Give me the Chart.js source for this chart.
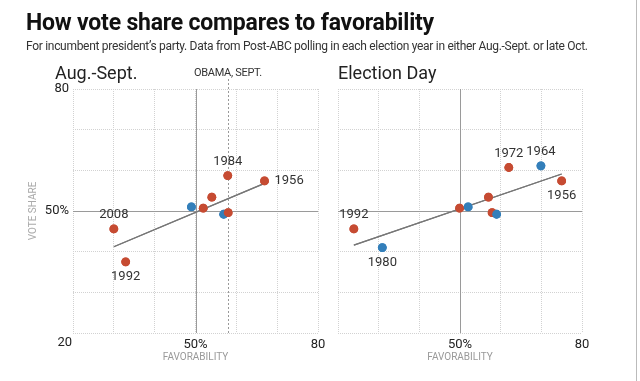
<!DOCTYPE html>
<html>
<head>
<meta charset="utf-8">
<script src="https://cdn.jsdelivr.net/npm/chart.js@4.4.1/dist/chart.umd.min.js"></script>
<style>
  body { margin: 0; background: #fff; font-family: Roboto, "Liberation Sans", sans-serif; }
  #page { position: relative; width: 640px; height: 381px; overflow: hidden; }
  canvas { position: absolute; left: 0; top: 0; }
  .txt { position: absolute; white-space: nowrap; color: #222; }
  #title { left: 26px; top: 9px; font-size: 23px; font-weight: bold; letter-spacing: -0.2px; color: #111; }
  #sub { left: 26px; top: 39px; font-size: 12px; color: #333; letter-spacing: -0.3px; }
  .panel { top: 62px; font-size: 18px; color: #222; }
  #obama { left: 194px; top: 66px; font-size: 11px; color: #333; letter-spacing: -0.3px; }
  #edge { position: absolute; left: 636px; top: 0; width: 1px; height: 381px; background: #bbb; }
</style>
</head>
<body>
<div id="page">
  <canvas id="aug" width="640" height="381"></canvas>
  <canvas id="elec" width="640" height="381"></canvas>
  <div class="txt" id="title">How vote share compares to favorability</div>
  <div class="txt" id="sub">For incumbent president’s party. Data from Post-ABC polling in each election year in either Aug.-Sept. or late Oct.</div>
  <div class="txt panel" style="left:55px">Aug.-Sept.</div>
  <div class="txt panel" style="left:338px">Election Day</div>
  <div class="txt" id="obama">OBAMA, SEPT.</div>
  <div id="edge"></div>
</div>
<script>
// Aug.-Sept. polling
const augFav   = [30.0, 32.9, 49.0, 51.9, 54.0, 57.9, 66.9, 56.9, 58.0];
const augVote  = [45.6, 37.5, 51.0, 50.7, 53.4, 58.7, 57.4, 49.2, 49.6];
const augParty = ['R', 'R', 'D', 'R', 'R', 'R', 'R', 'D', 'R'];
const augYears = ['2008', '1992', '', '', '', '1984', '1956', '', ''];
const augTrendFav  = [30.0, 66.9];
const augTrendVote = [41.2, 56.8];
const obamaSept = 58;

// Election Day (late Oct.)
const elecFav   = [23.9, 30.9, 49.9, 52.0, 57.0, 57.9, 59.0, 62.0, 69.9, 75.0];
const elecVote  = [45.6, 41.0, 50.7, 51.0, 53.4, 49.6, 49.2, 60.7, 61.1, 57.4];
const elecParty = ['R', 'D', 'R', 'D', 'R', 'R', 'D', 'R', 'D', 'R'];
const elecYears = ['1992', '1980', '', '', '', '', '', '1972', '1964', '1956'];
const elecTrendFav  = [23.9, 75.0];
const elecTrendVote = [41.6, 59.1];

const axisMin = 20, axisMax = 80, axisStep = 10;
const tickText = { 50: '50%', 80: '80' };

const partyColor = { R: '#c64b32', D: '#337fba' };
// where each year label sits relative to its dot
const labelSide = {
  aug:  { '2008': 'above', '1992': 'below', '1984': 'above', '1956': 'right' },
  elec: { '1992': 'above', '1980': 'below', '1972': 'above', '1964': 'above', '1956': 'below' }
};

const pts = (xs, ys) => xs.map((x, i) => ({ x: x, y: ys[i] }));

const extras = {
  id: 'extras',
  afterDatasetsDraw(chart, args, opts) {
    const c = chart.ctx;
    const xs = chart.scales.x, ys = chart.scales.y;
    const a = chart.chartArea;
    c.save();
    // the 50% cross lines
    c.strokeStyle = '#9a9a9a';
    c.lineWidth = 1;
    c.beginPath();
    const x50 = Math.round(xs.getPixelForValue(50)) + 0.5;
    const y50 = Math.round(ys.getPixelForValue(50)) + 0.5;
    c.moveTo(x50, a.top); c.lineTo(x50, a.bottom);
    c.moveTo(a.left, y50); c.lineTo(a.right, y50);
    c.stroke();
    if (opts.obama) {
      const xo = Math.round(xs.getPixelForValue(opts.obama)) + 0.5;
      c.strokeStyle = '#999';
      c.setLineDash([2, 2]);
      c.beginPath();
      c.moveTo(xo, a.top - 10); c.lineTo(xo, a.bottom);
      c.stroke();
      c.setLineDash([]);
    }
    // redraw the trend line and dots above the cross lines
    chart.getDatasetMeta(1).dataset.draw(c);
    chart.getDatasetMeta(0).data.forEach(el => el.draw(c));
    // year labels
    c.font = '13px Roboto, "Liberation Sans", sans-serif';
    c.fillStyle = '#333';
    c.textBaseline = 'middle';
    opts.years.forEach((yr, i) => {
      if (!yr) return;
      const px = xs.getPixelForValue(opts.fav[i]);
      const py = ys.getPixelForValue(opts.vote[i]);
      const side = opts.sides[yr];
      if (side === 'right') {
        c.textAlign = 'left';
        c.fillText(yr, px + 10, py);
      } else {
        c.textAlign = 'center';
        c.fillText(yr, px, side === 'above' ? py - 14 : py + 15);
      }
    });
    if (opts.corner) {
      c.textAlign = 'right';
      c.fillStyle = '#222';
      c.fillText('20', a.left - 1, a.bottom + 10);
    }
    c.restore();
  }
};

function makeChart(id, fav, vote, party, years, trendFav, trendVote, sides, left) {
  const padL = left ? 0 : 338;
  const padR = left ? 322 : 58;
  return new Chart(document.getElementById(id), {
    type: 'scatter',
    data: {
      datasets: [
        {
          data: pts(fav, vote),
          pointRadius: 4.4,
          pointHoverRadius: 4.4,
          pointBackgroundColor: party.map(p => partyColor[p]),
          pointBorderWidth: 0,
          order: 1
        },
        {
          type: 'line',
          data: pts(trendFav, trendVote),
          borderColor: '#777',
          borderWidth: 1.2,
          pointRadius: 0,
          fill: false,
          order: 2
        }
      ]
    },
    options: {
      responsive: false,
      animation: false,
      events: [],
      layout: { padding: { left: padL, right: padR, top: 89, bottom: 0 } },
      plugins: {
        legend: { display: false },
        tooltip: { enabled: false },
        extras: { fav: fav, vote: vote, years: years, sides: sides, obama: left ? obamaSept : null, corner: left }
      },
      scales: {
        x: {
          type: 'linear', min: axisMin, max: axisMax,
          afterFit: s => { s.height = 48; },
          border: { display: false, dash: [1, 1] },
          grid: { color: '#d2d2d2', drawTicks: false },
          ticks: {
            stepSize: axisStep, padding: 4, color: '#222', maxRotation: 0, autoSkip: false,
            font: { size: 13, family: 'Roboto, "Liberation Sans", sans-serif' },
            callback: v => tickText[v] || ''
          },
          title: {
            display: true, text: 'FAVORABILITY', color: '#999',
            padding: { top: 0, bottom: 18 },
            font: { size: 10, family: 'Roboto, "Liberation Sans", sans-serif' }
          }
        },
        y: {
          type: 'linear', min: axisMin, max: axisMax,
          afterFit: s => { s.width = left ? 73 : 0; },
          border: { display: false, dash: [1, 1] },
          grid: { color: '#d2d2d2', drawTicks: false },
          ticks: {
            display: left, stepSize: axisStep, padding: 4, color: '#222',
            font: { size: 13, family: 'Roboto, "Liberation Sans", sans-serif' },
            callback: v => tickText[v] || ''
          },
          title: {
            display: left, text: 'VOTE SHARE', color: '#aaa',
            padding: { top: 27, bottom: 0 },
            font: { size: 10, family: 'Roboto, "Liberation Sans", sans-serif' }
          }
        }
      }
    },
    plugins: [extras]
  });
}

makeChart('aug', augFav, augVote, augParty, augYears, augTrendFav, augTrendVote, labelSide.aug, true);
makeChart('elec', elecFav, elecVote, elecParty, elecYears, elecTrendFav, elecTrendVote, labelSide.elec, false);
</script>
</body>
</html>
